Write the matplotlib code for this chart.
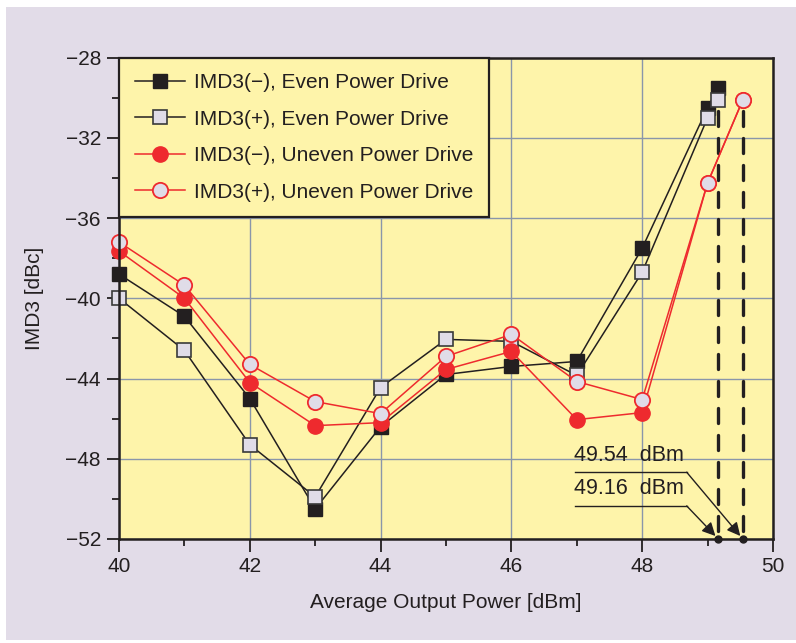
import matplotlib
matplotlib.use("Agg")
import matplotlib.pyplot as plt
from matplotlib.patches import Rectangle
from matplotlib.ticker import MultipleLocator

plt.rcParams['font.family'] = ['Liberation Sans', 'DejaVu Sans']

# Data
x_even = [40, 41, 42, 43, 44, 45, 46, 47, 48, 49, 49.16]
x_uneven = [40, 41, 42, 43, 44, 45, 46, 47, 48, 49, 49.54]
imd3_minus_even = [-38.8, -40.9, -45.0, -50.5, -46.4, -43.8, -43.4, -43.15, -37.5, -30.5, -29.5]
imd3_plus_even = [-40.0, -42.6, -47.3, -49.9, -44.45, -42.05, -42.15, -43.85, -38.7, -31.0, -30.1]
imd3_minus_uneven = [-37.65, -40.0, -44.2, -46.35, -46.2, -43.55, -42.65, -46.05, -45.7, -34.25, -30.1]
imd3_plus_uneven = [-37.2, -39.35, -43.3, -45.15, -45.75, -42.9, -41.8, -44.15, -45.05, -34.25, -30.1]
labels = ["IMD3(\u2212), Even Power Drive", "IMD3(+), Even Power Drive",
          "IMD3(\u2212), Uneven Power Drive", "IMD3(+), Uneven Power Drive"]
limit_x = [49.16, 49.54]
limit_labels = ["49.16  dBm", "49.54  dBm"]

BG = "#E2DCE8"
YEL = "#FEF4AA"
DARK = "#231F20"
RED = "#EE2A2E"
OPEN = "#E0DCE8"
GRID = "#8A96AA"

fig = plt.figure(figsize=(7.96, 6.43), dpi=100, facecolor="white")
fig.patches.append(Rectangle((6/796, 3/643), 790/796, 633/643, transform=fig.transFigure,
                             facecolor=BG, edgecolor="none", zorder=-10))
ax = fig.add_axes([119/796, 1 - 539/643, (773 - 119)/796, (539 - 57.5)/643])
ax.set_facecolor(YEL)

ax.plot(x_even, imd3_minus_even, color=DARK, lw=1.1, marker='s', ms=9.5,
        mfc=DARK, mec=DARK, mew=1.0, label=labels[0], zorder=3, clip_on=False)
ax.plot(x_even, imd3_plus_even, color=DARK, lw=1.1, marker='s', ms=9.5,
        mfc=OPEN, mec="#3a3a3a", mew=1.2, label=labels[1], zorder=4, clip_on=False)
ax.plot(x_uneven, imd3_minus_uneven, color=RED, lw=1.1, marker='o', ms=11,
        mfc=RED, mec=RED, mew=1.0, label=labels[2], zorder=5, clip_on=False)
ax.plot(x_uneven, imd3_plus_uneven, color=RED, lw=1.1, marker='o', ms=11,
        mfc=OPEN, mec=RED, mew=1.3, label=labels[3], zorder=6, clip_on=False)

# dashed limit lines
tops = [imd3_plus_even[-1] - 0.55, imd3_plus_uneven[-1] - 0.55]
for xv, top in zip(limit_x, tops):
    ax.plot([xv, xv], [top, -52], color=DARK, lw=2.4, ls=(0, (4.5, 3.6)),
            dash_capstyle='round', zorder=2)
    ax.plot([xv], [-52], marker='o', ms=5, color=DARK, zorder=7, clip_on=False)

# annotations
text_y = [-50.02, -48.34]
line_y = [-50.35, -48.67]
for xv, lab, ty, ly in zip(limit_x, limit_labels, text_y, line_y):
    ax.text(46.96, ty, lab, fontsize=15.5, color=DARK, ha='left', va='bottom', zorder=8)
    ax.plot([46.98, 48.68], [ly, ly], color=DARK, lw=1.0, zorder=8)
    ax.annotate("", xy=(xv - 0.04, -51.85), xytext=(48.68, ly),
                arrowprops=dict(arrowstyle='-|>', color=DARK, lw=1.0,
                                mutation_scale=20, shrinkA=0, shrinkB=0), zorder=8)

ax.set_xlim(40, 50)
ax.set_ylim(-52, -28)
ax.xaxis.set_major_locator(MultipleLocator(2))
ax.xaxis.set_minor_locator(MultipleLocator(1))
ax.yaxis.set_major_locator(MultipleLocator(4))
ax.yaxis.set_minor_locator(MultipleLocator(2))
ax.grid(True, which='major', color=GRID, lw=1.0, zorder=1)
ax.set_axisbelow(True)
ax.tick_params(which='major', direction='out', length=9, width=1.3, color=DARK,
               labelsize=15, labelcolor=DARK, pad=4)
ax.tick_params(which='minor', direction='out', length=5, width=1.3, color=DARK)
for s in ax.spines.values():
    s.set_color(DARK)
    s.set_linewidth(1.8)
    s.set_zorder(9)

ax.set_xlabel("Average Output Power [dBm]", fontsize=15, color=DARK, labelpad=12)
ax.set_ylabel("IMD3 [dBc]", fontsize=15, color=DARK, labelpad=15)

leg = ax.legend(loc='upper left', bbox_to_anchor=(0.0, 1.0), fontsize=15,
                frameon=True, fancybox=False, handlelength=2.4, handletextpad=0.45,
                labelspacing=0.84, borderpad=0.75, borderaxespad=0.0)
leg.get_frame().set_facecolor(YEL)
leg.get_frame().set_edgecolor(DARK)
leg.get_frame().set_linewidth(1.6)
leg.get_frame().set_alpha(1)
leg.set_zorder(10)
for t in leg.get_texts():
    t.set_color(DARK)

fig.savefig("out.png", dpi=100, facecolor="white")
